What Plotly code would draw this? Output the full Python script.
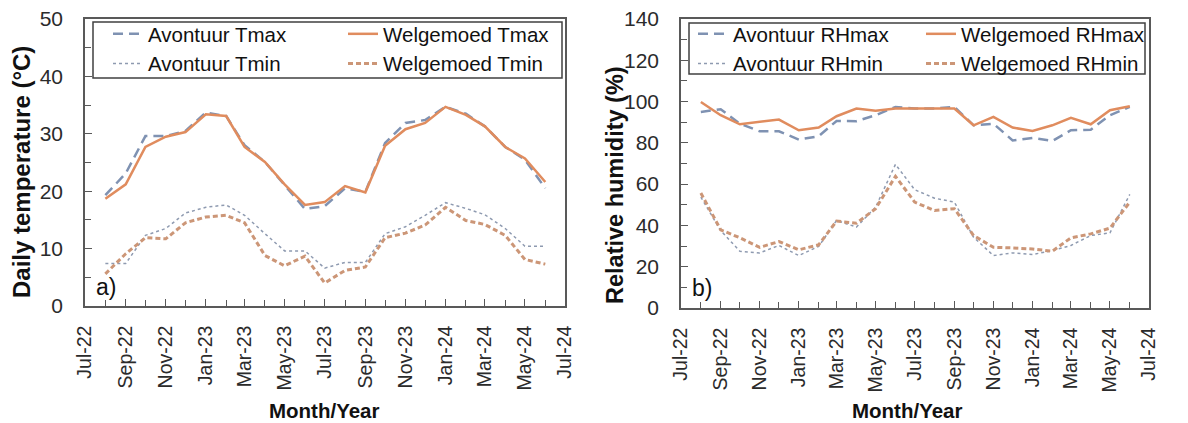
import plotly.graph_objects as go

months = ["2022-08-01","2022-09-01","2022-10-01","2022-11-01","2022-12-01",
          "2023-01-01","2023-02-01","2023-03-01","2023-04-01","2023-05-01","2023-06-01",
          "2023-07-01","2023-08-01","2023-09-01","2023-10-01","2023-11-01","2023-12-01",
          "2024-01-01","2024-02-01","2024-03-01","2024-04-01","2024-05-01","2024-06-01"]

avontuur_tmax = [19.3,23.1,29.6,29.6,30.5,33.7,33.1,28.0,25.1,21.0,16.9,17.4,20.5,19.9,28.4,31.9,32.4,34.7,33.5,31.3,27.7,25.5,20.5]
welgemoed_tmax = [18.7,21.2,27.7,29.5,30.3,33.4,33.1,27.7,25.1,21.2,17.6,18.1,20.9,19.8,27.9,30.8,31.9,34.7,33.3,31.3,27.7,25.7,21.6]
avontuur_tmin = [7.4,7.4,12.3,13.5,16.2,17.2,17.6,15.8,12.6,9.6,9.6,6.6,7.6,7.6,12.6,13.8,15.8,18.0,17.0,15.9,13.5,10.4,10.4]
welgemoed_tmin = [5.6,9.1,11.9,11.7,14.5,15.5,15.8,14.5,8.8,7.0,8.7,4.0,6.2,6.8,11.9,12.7,14.1,17.2,14.9,14.2,12.3,8.1,7.3]

avontuur_rhmax = [95.0,96.3,89.3,85.6,85.6,81.6,83.2,90.6,90.5,93.4,97.4,96.6,96.6,97.4,88.5,89.3,81.2,82.4,80.9,86.1,86.4,93.4,97.4]
welgemoed_rhmax = [99.8,93.4,89.0,90.1,91.3,86.1,87.4,92.9,96.6,95.5,96.6,96.6,96.6,96.6,88.5,92.6,87.4,85.8,88.5,92.1,89.0,95.8,97.7]
avontuur_rhmin = [53.7,37.5,27.5,26.7,30.3,25.4,29.8,42.4,39.2,48.9,69.6,57.3,53.2,51.3,34.3,25.4,26.7,25.9,27.8,30.3,35.1,36.4,55.0]
welgemoed_rhmin = [55.7,37.9,34.0,29.4,32.2,28.2,30.6,42.1,41.1,48.1,63.8,51.3,47.2,48.1,35.1,29.4,29.1,28.6,27.5,34.0,35.9,38.7,51.3]

c_av_max = "#7F92B2"
c_we_max = "#E08C5E"
c_av_min = "#8E9AB0"
c_we_min = "#CC9677"
FONT = "Liberation Sans, Arial, sans-serif"
W, H = 1188, 423

fig = go.Figure()

def add(y, name, color, dash, width, xa, ya, legend):
    fig.add_trace(go.Scatter(x=months, y=y, name=name, mode="lines",
                             line=dict(color=color, dash=dash, width=width),
                             xaxis=xa, yaxis=ya, legend=legend))

add(avontuur_tmax, "Avontuur Tmax", c_av_max, "10px,6px", 2.5, "x", "y", "legend")
add(avontuur_tmin, "Avontuur Tmin", c_av_min, "dot", 1.5, "x", "y", "legend")
add(welgemoed_tmax, "Welgemoed Tmax", c_we_max, "solid", 2.5, "x", "y", "legend2")
add(welgemoed_tmin, "Welgemoed Tmin", c_we_min, "5px,3px", 3, "x", "y", "legend2")

add(avontuur_rhmax, "Avontuur RHmax", c_av_max, "10px,6px", 2.5, "x2", "y2", "legend3")
add(avontuur_rhmin, "Avontuur RHmin", c_av_min, "dot", 1.5, "x2", "y2", "legend3")
add(welgemoed_rhmax, "Welgemoed RHmax", c_we_max, "solid", 2.5, "x2", "y2", "legend4")
add(welgemoed_rhmin, "Welgemoed RHmin", c_we_min, "5px,3px", 3, "x2", "y2", "legend4")

def px(x): return x / W
def py(y): return 1 - y / H

axis_line = "#595959"
xcommon = dict(type="date", range=["2022-07-01", "2024-07-01"], dtick="M2",
               tick0="2022-07-01", tickformat="%b-%y", tickangle=-90,
               ticks="inside", ticklen=7, tickcolor=axis_line, tickwidth=1.2,
               minor=dict(dtick="M1", ticks="inside", ticklen=6, tickcolor=axis_line, tickwidth=1.2),
               showline=True, linecolor=axis_line, linewidth=1.5, mirror=True,
               showgrid=False, zeroline=False, automargin=False,
               tickfont=dict(family=FONT, size=19.5, color="#2b2b2b"),
               ticklabelstandoff=10)
ycommon = dict(ticks="inside", ticklen=7, tickcolor=axis_line, tickwidth=1.2,
               showline=True, linecolor=axis_line, linewidth=1.5, mirror=True,
               showgrid=False, zeroline=False, automargin=False,
               tickfont=dict(family=FONT, size=21, color="#2b2b2b"),
               ticklabelstandoff=16)

fig.update_layout(
    width=W, height=H, autosize=False,
    margin=dict(l=0, r=0, t=0, b=0),
    plot_bgcolor="white", paper_bgcolor="white",
    xaxis=dict(domain=[px(85), px(565)], anchor="y", **xcommon),
    yaxis=dict(domain=[py(306), py(19)], anchor="x", range=[0, 50], dtick=10,
               minor=dict(dtick=5, ticks="inside", ticklen=6, tickcolor=axis_line, tickwidth=1.2),
               **ycommon),
    xaxis2=dict(domain=[px(681), px(1149)], anchor="y2", **xcommon),
    yaxis2=dict(domain=[py(308), py(19)], anchor="x2", range=[0, 140], dtick=20,
                minor=dict(dtick=10, ticks="inside", ticklen=6, tickcolor=axis_line, tickwidth=1.2),
                **ycommon),
)

legfont = dict(family=FONT, size=20.5, color="#111111")
def leg(x, y):
    return dict(x=px(x), y=py(y), xanchor="left", yanchor="top", orientation="v",
                bgcolor="rgba(0,0,0,0)", borderwidth=0, font=legfont,
                tracegroupgap=0, itemwidth=30)

fig.update_layout(legend=leg(108, 14), legend2=leg(343, 14),
                  legend3=leg(693, 14), legend4=leg(921, 14))

fig.add_shape(type="rect", xref="paper", yref="paper", x0=px(93), x1=px(562), y0=py(78), y1=py(22),
              line=dict(color="#404040", width=1.5), fillcolor="white", layer="below")
fig.add_shape(type="rect", xref="paper", yref="paper", x0=px(689), x1=px(1145), y0=py(74), y1=py(23),
              line=dict(color="#404040", width=1.5), fillcolor="white", layer="below")

ann = [
    dict(text="<b>Daily temperature (°C)</b>", x=px(22), y=py(172), textangle=-90, size=24),
    dict(text="<b>Relative humidity (%)</b>", x=px(615), y=py(185), textangle=-90, size=23.5),
    dict(text="<b>Month/Year</b>", x=px(324), y=py(410), textangle=0, size=20.5),
    dict(text="<b>Month/Year</b>", x=px(907), y=py(410), textangle=0, size=20.5),
]
for a in ann:
    fig.add_annotation(text=a["text"], x=a["x"], y=a["y"], textangle=a["textangle"],
                       xref="paper", yref="paper", showarrow=False, xanchor="center", yanchor="middle",
                       font=dict(family=FONT, size=a["size"], color="#111111"))
for t, x, y in [("a)", 106, 287), ("b)", 702, 288)]:
    fig.add_annotation(text=t, xref="paper", yref="paper", x=px(x), y=py(y), showarrow=False,
                       xanchor="center", yanchor="middle", font=dict(family=FONT, size=23, color="#111111"))

fig.write_html("out.html")
